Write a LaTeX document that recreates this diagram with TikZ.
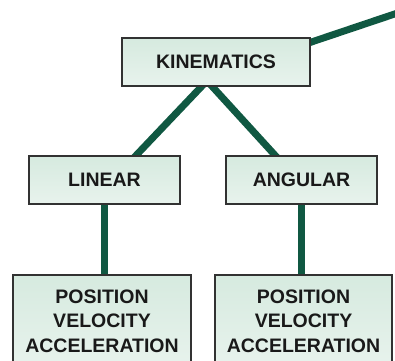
\documentclass[tikz,border=0pt]{standalone}
\usepackage{fontspec}
\setmainfont{Liberation Sans}
\usetikzlibrary{calc,positioning,backgrounds}
\definecolor{branchGreen}{RGB}{16,88,66}
\definecolor{boxMint}{RGB}{214,234,223}
\definecolor{boxMintLight}{RGB}{232,243,237}
\definecolor{boxEdge}{RGB}{50,50,50}
\definecolor{labelInk}{RGB}{25,25,25}
\tikzset{
  topicbox/.style={draw=boxEdge,line width=1.5pt,top color=boxMint,bottom color=boxMintLight,
    text=labelInk,font=\bfseries\fontsize{19.5}{24.5}\selectfont,align=center,inner sep=0pt},
  branch/.style={draw=branchGreen,line width=7pt,line cap=butt}
}

\begin{document}
\begin{tikzpicture}[x=1pt,y=-1pt]
  \clip (0,0) rectangle (395,360);
  % boxes
  \node[topicbox,minimum width=188pt,minimum height=48pt] (kin) at (216,62) {KINEMATICS};
  \node[topicbox,minimum width=151pt,minimum height=48pt] (lin) at (104.5,180) {LINEAR};
  \node[topicbox,minimum width=151pt,minimum height=48pt] (ang) at (301.5,180) {ANGULAR};
  \node[topicbox,anchor=north,minimum width=178pt,inner ysep=15pt] (pvaL) at (102,274)
    {POSITION\\VELOCITY\\ACCELERATION};
  \node[topicbox,anchor=north,minimum width=177pt,inner ysep=15pt] (pvaR) at (303.5,274)
    {POSITION\\VELOCITY\\ACCELERATION};
  \coordinate (offpage) at (402,11.5);
  % connectors behind the boxes, white sheet under everything
  \begin{pgfonlayer}{background}
    \fill[white] (0,0) rectangle (395,360);
    \draw[branch] ([xshift=-9pt,yshift=6pt]kin.south) -- ([xshift=26pt,yshift=-6pt]lin.north);
    \draw[branch] ([xshift=-9pt,yshift=6pt]kin.south) -- ([xshift=-21pt,yshift=-6pt]ang.north);
    \draw[branch] ([xshift=-6pt,yshift=-7pt]kin.north east) -- (offpage);
    \draw[branch] (lin.south) -- (lin.south |- pvaL.north);
    \draw[branch] (ang.south) -- (ang.south |- pvaR.north);
  \end{pgfonlayer}
\end{tikzpicture}
\end{document}
